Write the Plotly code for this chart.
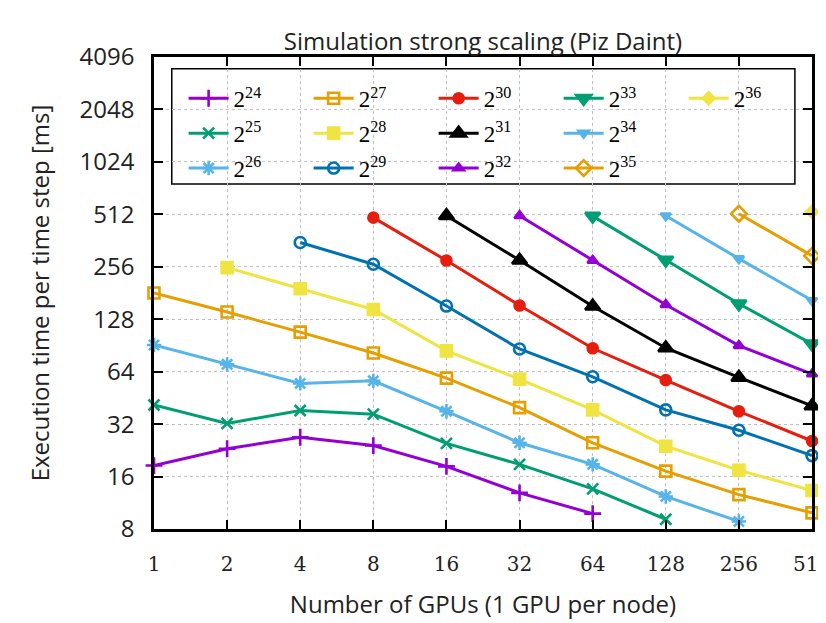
import plotly.graph_objects as go

# ---------------- data ----------------
gpus = [1, 2, 4, 8, 16, 32, 64, 128, 256, 512]
tick_y = [8, 16, 32, 64, 128, 256, 512, 1024, 2048, 4096]

# problem-size exponents (2^n)
sizes = [24, 25, 26, 27, 28, 29, 30, 31, 32, 33, 34, 35, 36]
# index into gpus of the first measured point of every series
first_idx = [0, 0, 0, 0, 1, 2, 3, 4, 5, 6, 7, 8, 9]

t24 = [18.5, 23.1, 26.9, 24.1, 18.3, 12.9, 9.8]
t25 = [41.2, 32.3, 38.3, 36.5, 24.8, 18.8, 13.6, 9.1]
t26 = [91, 70.5, 54.8, 56.7, 37.9, 25.0, 18.8, 12.3, 8.84]
t27 = [181, 140.7, 107.9, 81.9, 58.8, 39.8, 25.0, 17.2, 12.6, 9.9]
t28 = [253, 191.6, 145.6, 84.2, 58.0, 38.6, 23.9, 17.4, 13.3]
t29 = [353, 264.7, 152.3, 86.4, 59.8, 38.6, 29.5, 21.1]
t30 = [490, 278, 153.6, 87.2, 57.2, 37.9, 25.6]
t31 = [503, 279, 152, 87.5, 59.3, 40.7]
t32 = [503, 278, 155, 90.3, 62]
t33 = [500, 280, 157, 92.4]
t34 = [503, 285, 164]
t35 = [516, 296]
t36 = [530]
times = [t24, t25, t26, t27, t28, t29, t30, t31, t32, t33, t34, t35, t36]

# ---------------- styles ----------------
colors = ["#9400D3", "#009E73", "#56B4E9", "#E69F00", "#F0E442", "#0072B2",
          "#E51E10", "#000000", "#9400D3", "#009E73", "#56B4E9", "#E69F00",
          "#F0E442"]
symbols = ["cross-thin", "x-thin", "asterisk", "square-open", "square",
           "circle-open", "circle", "triangle-up", "triangle-up",
           "triangle-down", "triangle-down", "diamond-open", "diamond"]
msizes = [12, 11, 12, 11, 11, 11, 10, 13, 9, 13, 9, 12, 9]
legend_of = ["legend", "legend", "legend", "legend2", "legend2", "legend2",
             "legend3", "legend3", "legend3", "legend4", "legend4", "legend4",
             "legend5"]

fig = go.Figure()
for n, i0, ys, c, s, ms, lg in zip(sizes, first_idx, times, colors, symbols,
                                   msizes, legend_of):
    xs = gpus[i0:i0 + len(ys)]
    fig.add_trace(go.Scatter(
        x=xs, y=ys, mode="lines+markers", name=f"2<sup>{n}</sup>",
        line=dict(color=c, width=3),
        marker=dict(symbol=s, size=ms, color=c,
                    line=dict(color=c, width=2.6)),
        cliponaxis=False, legend=lg, legendgroup=str(n),
    ))

axis_font = dict(family="Open Sans", size=24, color="#222")
ytick_font = dict(family="Open Sans", size=24, color="#222")
xtick_font = dict(family="DejaVu Serif", size=20, color="#222")

common_axis = dict(
    showline=True, linecolor="black", linewidth=2.5, mirror="allticks",
    ticks="inside", ticklen=9, tickwidth=1.5, tickcolor="black",
    showgrid=True, gridcolor="#c0c0c0", griddash="dot", gridwidth=1,
    zeroline=False, automargin=False,
)

fig.update_xaxes(type="log", range=[0, 2.70927], tickvals=gpus,
                 ticktext=[str(g) for g in gpus], ticklabelstandoff=15,
                 ticklabeloverflow="allow", tickfont=xtick_font,
                 title=dict(text="Number of GPUs (1 GPU per node)",
                            font=axis_font, standoff=22),
                 **common_axis)
fig.update_yaxes(type="log", range=[0.90309, 3.61236], tickvals=tick_y,
                 ticktext=[str(t) for t in tick_y], ticklabelstandoff=12,
                 tickfont=ytick_font,
                 title=dict(text="Execution time per time step [ms]",
                            font=axis_font, standoff=24),
                 **common_axis)

leg_font = dict(family="Liberation Serif", size=23, color="black")
col_x = [0.045, 0.235, 0.425, 0.615, 0.805]
leg_common = dict(font=leg_font, bgcolor="rgba(0,0,0,0)", borderwidth=0,
                  orientation="v", yanchor="top", xanchor="left",
                  tracegroupgap=2, itemwidth=40)

fig.update_layout(
    width=826, height=615,
    margin=dict(l=146, r=22, t=49, b=94),
    paper_bgcolor="white", plot_bgcolor="white",
    title=dict(text="Simulation strong scaling (Piz Daint)",
               font=dict(family="Open Sans", size=24, color="#222"),
               x=0.575, xanchor="center", y=0.9447, yanchor="middle"),
    legend=dict(x=col_x[0], y=0.958, **leg_common),
    legend2=dict(x=col_x[1], y=0.958, **leg_common),
    legend3=dict(x=col_x[2], y=0.958, **leg_common),
    legend4=dict(x=col_x[3], y=0.958, **leg_common),
    legend5=dict(x=col_x[4], y=0.958, **leg_common),
    shapes=[dict(type="rect", xref="paper", yref="paper",
                 x0=0.027, x1=0.974, y0=0.731, y1=0.975,
                 line=dict(color="black", width=1.5),
                 fillcolor="white", layer="below")],
)

fig.write_html("out.html")
